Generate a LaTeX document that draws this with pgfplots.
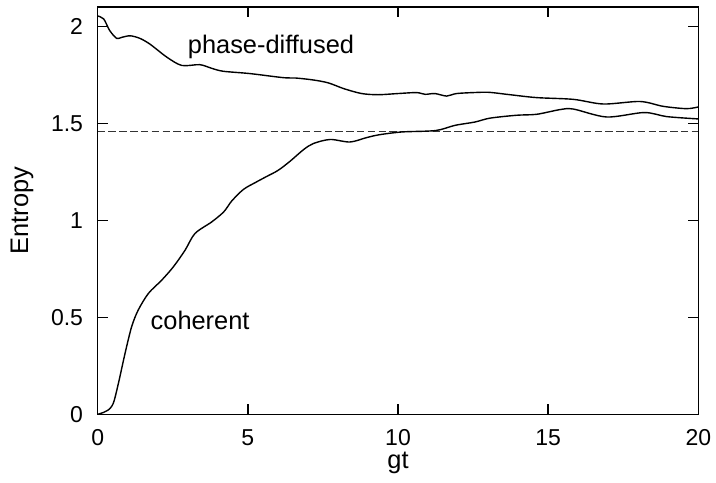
\documentclass[border=0pt]{standalone}
\usepackage{fontspec}
\setmainfont{Liberation Sans}
\usepackage{pgfplots}
\pgfplotsset{compat=1.18}

% 1px of the reference = 0.5pt
\begin{document}
\begin{tikzpicture}
\begin{axis}[
    name=main,
    scale only axis,
    width=300.3pt, height=203.5pt,
    xmin=0, xmax=20, ymin=0, ymax=2.1,
    xtick={0,5,10,15,20},
    ytick={0,0.5,1,1.5,2},
    tick align=inside,
    major tick length=5pt,
    axis line style={line width=0.8pt},
    every tick/.style={black, line width=0.8pt},
    /pgf/number format/assume math mode=true,
    ticklabel style={font=\fontsize{11.5}{13}\selectfont},
    xticklabel style={yshift=-4pt},
    yticklabel style={xshift=-3.8pt},
    xlabel={gt},
    ylabel={Entropy},
    label style={font=\fontsize{12.7}{15}\selectfont},
    xlabel style={at={(rel axis cs:0.5,0)}, anchor=center, yshift=-24.5pt},
    ylabel style={at={(rel axis cs:0,0.5)}, anchor=center, yshift=37.8pt},
    clip=false,
]
% reference level
\addplot[black!80, line width=0.5pt, dash pattern=on 3.7pt off 1.7pt]
    coordinates {(0,1.457)(20,1.457)};

% phase-diffused
\addplot[black, line width=0.7pt, smooth] coordinates {
(0,2.055)(0.2,2.04)(0.4,1.98)(0.63,1.94)(0.8,1.945)(1.08,1.953)(1.4,1.94)
(1.74,1.91)(2.3,1.843)(2.8,1.80)(3.4,1.804)(3.8,1.785)(4.18,1.77)(5.07,1.758)
(6.18,1.737)(6.6,1.735)(7.18,1.725)(7.68,1.71)(8.2,1.68)(8.79,1.655)(9.34,1.649)
(10.0,1.655)(10.62,1.66)(10.9,1.651)(11.23,1.655)(11.62,1.642)(11.95,1.655)
(12.67,1.661)(13.06,1.661)(13.73,1.649)(14.62,1.634)(15.84,1.625)(16.84,1.601)
(18.06,1.614)(18.83,1.589)(19.61,1.577)(20,1.586)
};

% coherent
\addplot[black, line width=0.7pt, smooth] coordinates {
(0,0.0)(0.2,0.01)(0.35,0.022)(0.52,0.057)(0.69,0.16)(0.91,0.314)(1.13,0.452)
(1.35,0.538)(1.69,0.624)(2.13,0.692)(2.52,0.761)(2.91,0.847)(3.24,0.933)
(3.8,0.993)(4.2,1.045)(4.46,1.10)(4.85,1.16)(5.24,1.195)(5.6,1.225)(6.0,1.258)
(6.4,1.305)(6.85,1.365)(7.18,1.397)(7.74,1.418)(8.4,1.405)(8.96,1.428)
(9.4,1.443)(10.15,1.457)(11.25,1.464)(11.9,1.491)(12.56,1.508)(13.06,1.528)
(13.95,1.543)(14.62,1.548)(15.39,1.572)(15.84,1.575)(16.95,1.534)(18.2,1.557)
(18.95,1.536)(20,1.524)
};

\node[font=\fontsize{12.7}{15}\selectfont] at (axis cs:5.77,1.893) {phase-diffused};
\node[font=\fontsize{12.7}{15}\selectfont] at (axis cs:3.41,0.486) {coherent};
\end{axis}
\pgfresetboundingbox
\path ([xshift=-48.85pt, yshift=-33.85pt]main.south west)
      rectangle ([xshift=8.85pt, yshift=3.65pt]main.north east);
\end{tikzpicture}
\end{document}
